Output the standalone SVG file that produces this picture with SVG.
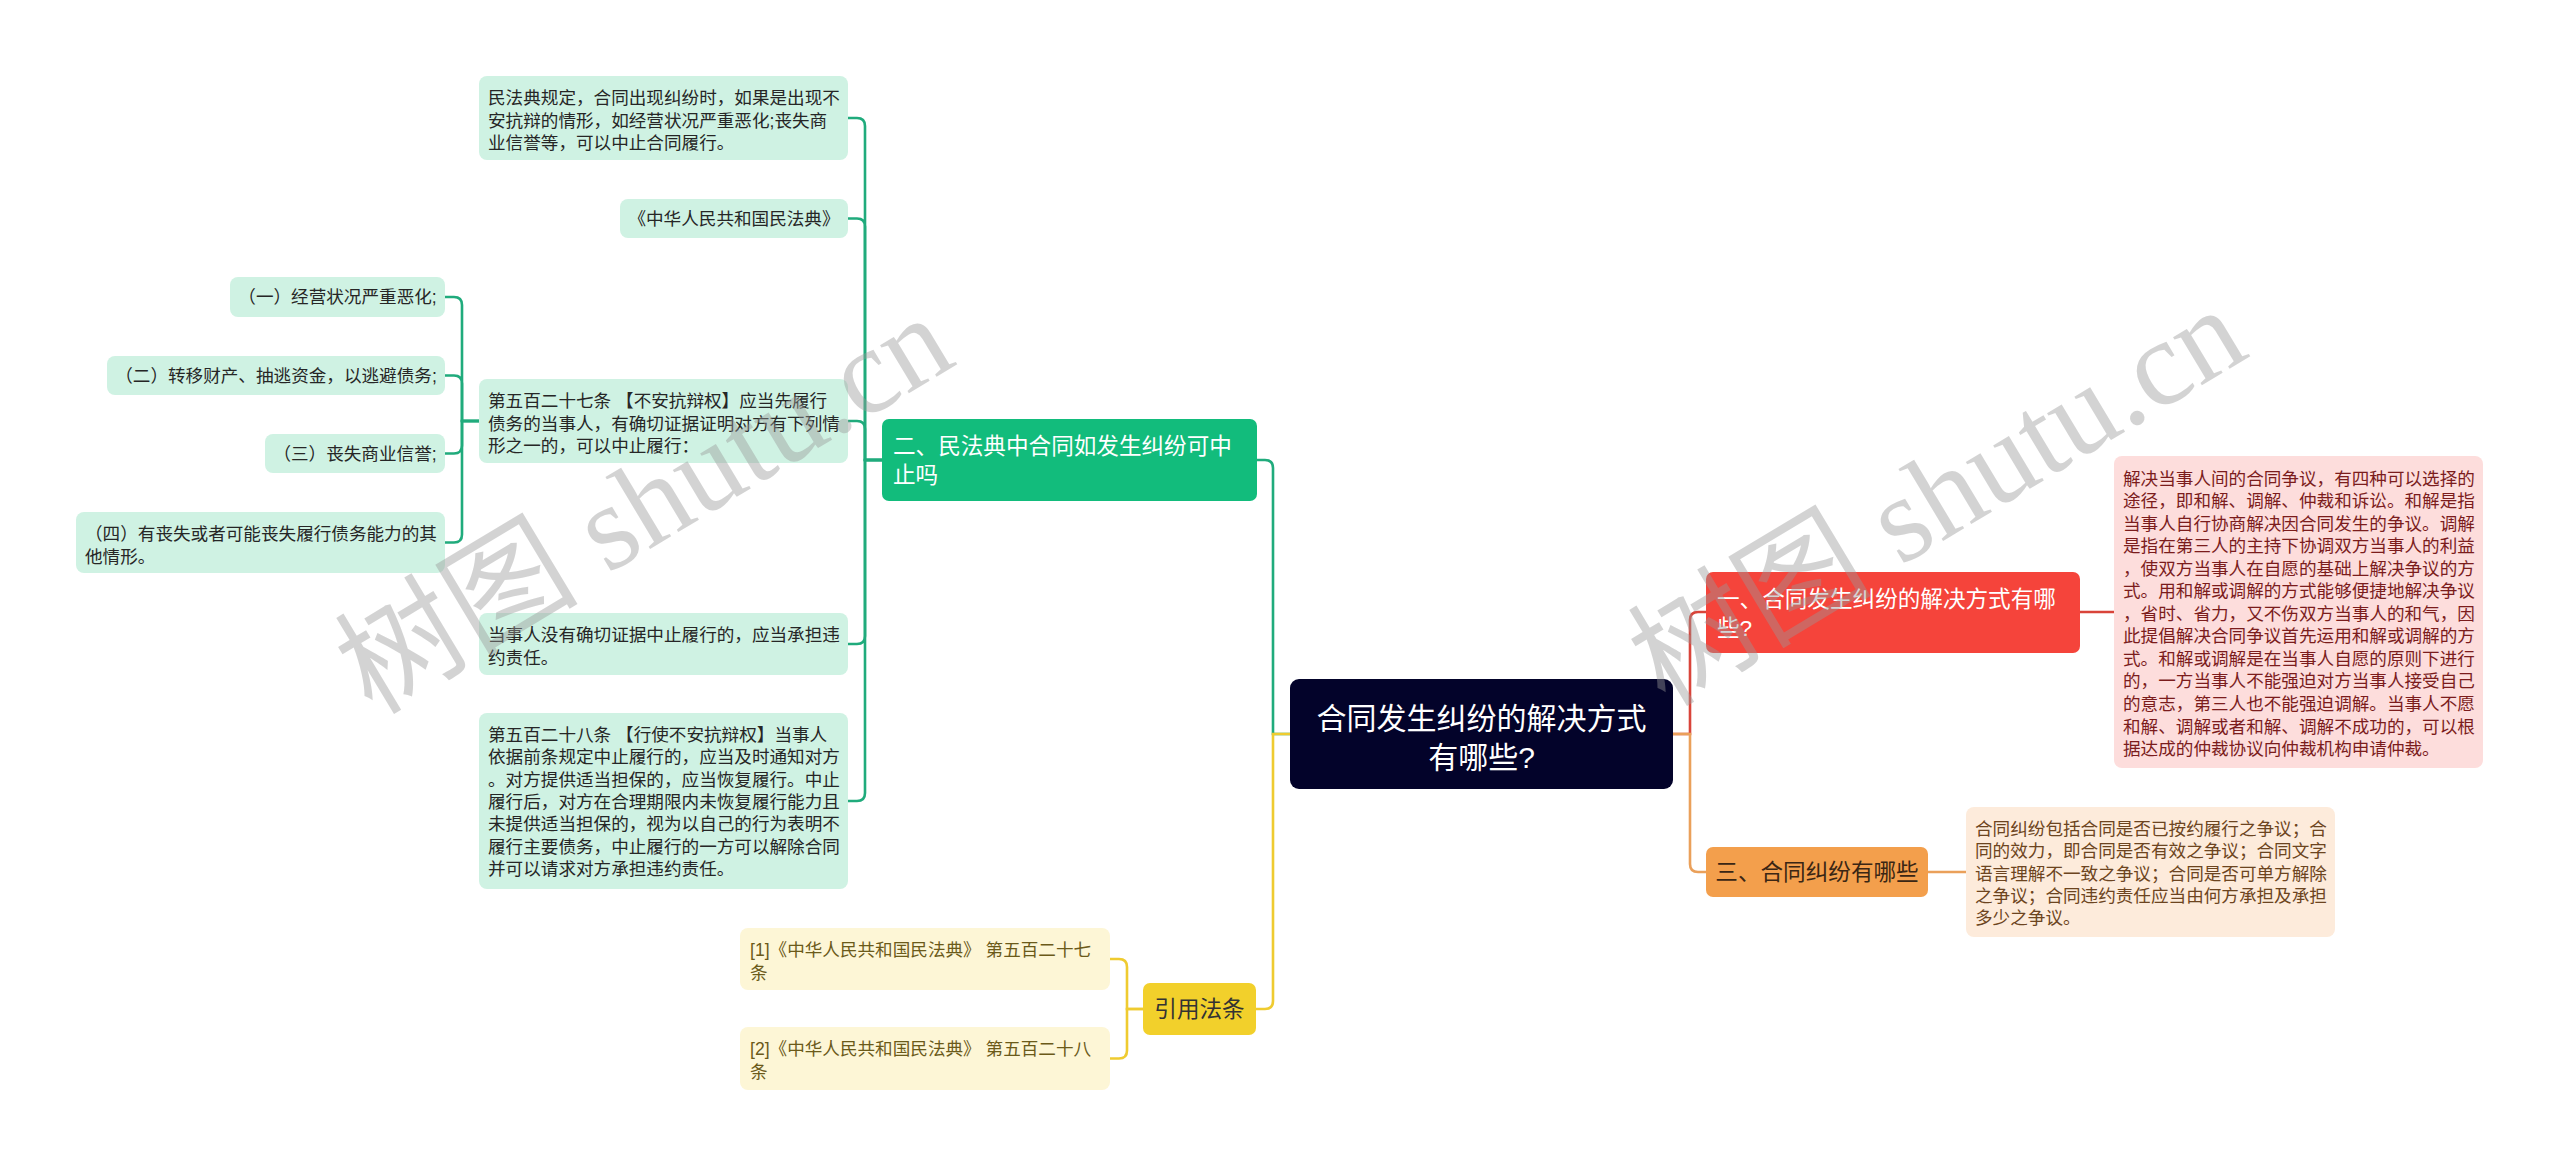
<svg xmlns="http://www.w3.org/2000/svg" width="2560" height="1167" viewBox="0 0 2560 1167">
<style>
text{font-family:"Liberation Sans","Noto Sans CJK SC",sans-serif}
.leaf{font-size:17.6px}
.lvl1{font-size:22.6px}
.gl{fill:#cff2e3}
.gt{fill:#262626}
.yl{fill:#fdf6d6}
.yt{fill:#6b5a1a}
.conn{fill:none;stroke-width:2.6;stroke-linecap:round}
.cg{stroke:#20ab7c}
.cy{stroke:#efcb30}
.cr{stroke:#d9443a}
.co{stroke:#eaa05a}
.wm{font-family:"Liberation Serif","Noto Sans CJK SC",serif;font-size:122px;fill:#999;opacity:0.42}
</style>
<rect width="2560" height="1167" fill="#ffffff"/>
<g id="connectors">
<path class="conn cg" d="M1290,734 H1273 V468 Q1273,460 1265,460 H1257"/>
<path class="conn cy" d="M1290,734 H1273 V1001 Q1273,1009 1265,1009 H1256"/>
<path class="conn cr" d="M1673,734 H1690 V620 Q1690,612 1698,612 H1706"/>
<path class="conn co" d="M1673,734 H1690 V864 Q1690,872 1698,872 H1706"/>
<path class="conn cr" d="M2080,612 H2114"/>
<path class="conn co" d="M1928,872 H1966"/>
<path class="conn cg" d="M882,460 H865 V126 Q865,118 857,118 H848"/>
<path class="conn cg" d="M882,460 H865 V226.5 Q865,218.5 857,218.5 H848"/>
<path class="conn cg" d="M882,460 H865 V429 Q865,421 857,421 H848"/>
<path class="conn cg" d="M882,460 H865 V636 Q865,644 857,644 H848"/>
<path class="conn cg" d="M882,460 H865 V793 Q865,801 857,801 H848"/>
<path class="conn cg" d="M479,421 H462 V305 Q462,297 454,297 H445"/>
<path class="conn cg" d="M479,421 H462 V383.5 Q462,375.5 454,375.5 H445"/>
<path class="conn cg" d="M479,421 H462 V445.5 Q462,453.5 454,453.5 H445"/>
<path class="conn cg" d="M479,421 H462 V534.5 Q462,542.5 454,542.5 H445"/>
<path class="conn cy" d="M1143,1009 H1127 V967 Q1127,959 1119,959 H1110"/>
<path class="conn cy" d="M1143,1009 H1127 V1050.5 Q1127,1058.5 1119,1058.5 H1110"/>
</g>
<g id="root">
<rect x="1290" y="679" width="383" height="110" rx="9" fill="#03032a"/>
<text x="1481.5" y="728.5" text-anchor="middle" font-size="30" fill="#ffffff">合同发生纠纷的解决方式</text>
<text x="1481.5" y="767.5" text-anchor="middle" font-size="30" fill="#ffffff">有哪些?</text>
</g>
<g id="n-green">
<rect x="882" y="419" width="375" height="82" rx="7" fill="#12bc7c"/>
<text class="lvl1" x="893" y="453.5" fill="#ffffff">二、民法典中合同如发生纠纷可中</text>
<text class="lvl1" x="893" y="482.5" fill="#ffffff">止吗</text>
</g>
<g id="n-red">
<rect x="1706" y="572" width="374" height="81" rx="7" fill="#f5443b"/>
<text class="lvl1" x="1717" y="606.5" fill="#ffffff">一、合同发生纠纷的解决方式有哪</text>
<text class="lvl1" x="1717" y="635.5" fill="#ffffff">些?</text>
</g>
<g id="n-orange">
<rect x="1706" y="847" width="222" height="50" rx="7" fill="#f39f4c"/>
<text class="lvl1" x="1817" y="880" text-anchor="middle" fill="#3a2614">三、合同纠纷有哪些</text>
</g>
<g id="n-yellow">
<rect x="1143" y="983" width="113" height="52" rx="7" fill="#f2d02b"/>
<text class="lvl1" x="1199.5" y="1017" text-anchor="middle" fill="#333333">引用法条</text>
</g>
<g id="n-pink">
<rect x="2114" y="456" width="369" height="312" rx="8" fill="#fddddc"/>
<g class="leaf" fill="#7b1c1c">
<text x="2123" y="484.5">解决当事人间的合同争议，有四种可以选择的</text>
<text x="2123" y="507">途径，即和解、调解、仲裁和诉讼。和解是指</text>
<text x="2123" y="529.6">当事人自行协商解决因合同发生的争议。调解</text>
<text x="2123" y="552.1">是指在第三人的主持下协调双方当事人的利益</text>
<text x="2123" y="574.7">，使双方当事人在自愿的基础上解决争议的方</text>
<text x="2123" y="597.2">式。用和解或调解的方式能够便捷地解决争议</text>
<text x="2123" y="619.8">，省时、省力，又不伤双方当事人的和气，因</text>
<text x="2123" y="642.3">此提倡解决合同争议首先运用和解或调解的方</text>
<text x="2123" y="664.9">式。和解或调解是在当事人自愿的原则下进行</text>
<text x="2123" y="687.4">的，一方当事人不能强迫对方当事人接受自己</text>
<text x="2123" y="710">的意志，第三人也不能强迫调解。当事人不愿</text>
<text x="2123" y="732.5">和解、调解或者和解、调解不成功的，可以根</text>
<text x="2123" y="755.1">据达成的仲裁协议向仲裁机构申请仲裁。</text>
</g>
</g>
<g id="n-orange-text">
<rect x="1966" y="807" width="369" height="130" rx="8" fill="#fdebdb"/>
<g class="leaf" fill="#6c4420">
<text x="1975" y="835">合同纠纷包括合同是否已按约履行之争议；合</text>
<text x="1975" y="857.3">同的效力，即合同是否有效之争议；合同文字</text>
<text x="1975" y="879.6">语言理解不一致之争议；合同是否可单方解除</text>
<text x="1975" y="902">之争议；合同违约责任应当由何方承担及承担</text>
<text x="1975" y="924.3">多少之争议。</text>
</g>
</g>
<g id="g-a">
<rect class="gl" x="479" y="76" width="369" height="84" rx="8"/>
<g class="leaf gt">
<text x="488" y="104">民法典规定，合同出现纠纷时，如果是出现不</text>
<text x="488" y="126.5">安抗辩的情形，如经营状况严重恶化;丧失商</text>
<text x="488" y="149">业信誉等，可以中止合同履行。</text>
</g>
</g>
<g id="g-b">
<rect class="gl" x="620" y="199" width="228" height="39" rx="8"/>
<text class="leaf gt" x="734" y="224.5" text-anchor="middle">《中华人民共和国民法典》</text>
</g>
<g id="g-527">
<rect class="gl" x="479" y="379" width="369" height="84" rx="8"/>
<g class="leaf gt">
<text x="488" y="407">第五百二十七条 【不安抗辩权】应当先履行</text>
<text x="488" y="429.5">债务的当事人，有确切证据证明对方有下列情</text>
<text x="488" y="452">形之一的，可以中止履行：</text>
</g>
</g>
<g id="g-1">
<rect class="gl" x="230" y="277" width="215" height="40" rx="8"/>
<text class="leaf gt" x="337.5" y="303" text-anchor="middle">（一）经营状况严重恶化;</text>
</g>
<g id="g-2">
<rect class="gl" x="107" y="356" width="338" height="39" rx="8"/>
<text class="leaf gt" x="276" y="381.5" text-anchor="middle">（二）转移财产、抽逃资金，以逃避债务;</text>
</g>
<g id="g-3">
<rect class="gl" x="265" y="434" width="180" height="39" rx="8"/>
<text class="leaf gt" x="355" y="459.5" text-anchor="middle">（三）丧失商业信誉;</text>
</g>
<g id="g-4">
<rect class="gl" x="76" y="512" width="369" height="61" rx="8"/>
<g class="leaf gt">
<text x="85" y="540">（四）有丧失或者可能丧失履行债务能力的其</text>
<text x="85" y="562.5">他情形。</text>
</g>
</g>
<g id="g-c">
<rect class="gl" x="479" y="613" width="369" height="62" rx="8"/>
<g class="leaf gt">
<text x="488" y="641">当事人没有确切证据中止履行的，应当承担违</text>
<text x="488" y="663.5">约责任。</text>
</g>
</g>
<g id="g-528">
<rect class="gl" x="479" y="713" width="369" height="176" rx="8"/>
<g class="leaf gt">
<text x="488" y="741">第五百二十八条 【行使不安抗辩权】当事人</text>
<text x="488" y="763.3">依据前条规定中止履行的，应当及时通知对方</text>
<text x="488" y="785.6">。对方提供适当担保的，应当恢复履行。中止</text>
<text x="488" y="808">履行后，对方在合理期限内未恢复履行能力且</text>
<text x="488" y="830.3">未提供适当担保的，视为以自己的行为表明不</text>
<text x="488" y="852.6">履行主要债务，中止履行的一方可以解除合同</text>
<text x="488" y="875">并可以请求对方承担违约责任。</text>
</g>
</g>
<g id="y-1">
<rect class="yl" x="740" y="928" width="370" height="62" rx="8"/>
<g class="leaf yt">
<text x="750" y="956">[1]《中华人民共和国民法典》 第五百二十七</text>
<text x="750" y="978.5">条</text>
</g>
</g>
<g id="y-2">
<rect class="yl" x="740" y="1027" width="370" height="63" rx="8"/>
<g class="leaf yt">
<text x="750" y="1055">[2]《中华人民共和国民法典》 第五百二十八</text>
<text x="750" y="1077.5">条</text>
</g>
</g>
<g id="watermarks">
<text class="wm" transform="translate(372,716) rotate(-31)">树图 shutu.cn</text>
<text class="wm" transform="translate(1665,708) rotate(-31)">树图 shutu.cn</text>
</g>
</svg>
